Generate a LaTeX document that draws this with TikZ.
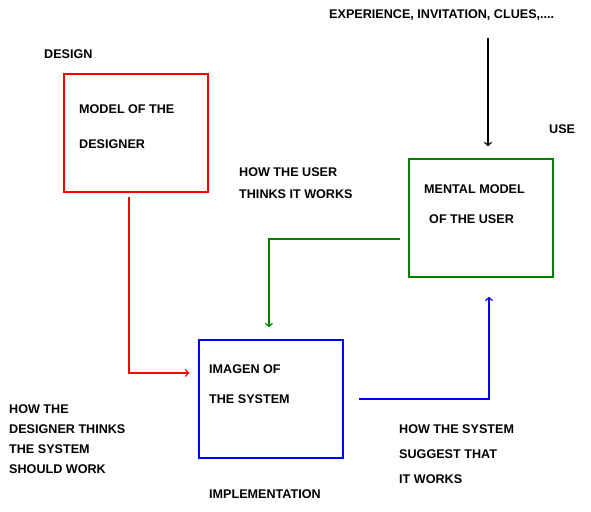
\documentclass[tikz,border=0pt]{standalone}
\usepackage{fontspec}
\setmainfont{Liberation Sans}
\usepackage{tikz}
\usetikzlibrary{positioning,arrows.meta}

\begin{document}
\begin{tikzpicture}[x=1pt, y=-1pt,
  every node/.style={font=\fontsize{12.6}{14}\selectfont\bfseries},
  lbl/.style={anchor=west, inner sep=0pt},
  boxnode/.style={draw, line width=1.6pt, minimum width=144pt, minimum height=118pt, inner sep=0pt},
  link/.style={line width=1.6pt, -{Straight Barb[length=3pt,width=7pt,line width=1.2pt]}}]
\useasboundingbox (0,0) rectangle (591,511);
% boxes
\node[boxnode, draw=red] (design) at (136,133) {};
\node[boxnode, draw=blue] (system) at (271,399) {};
\node[boxnode, draw=green!50!black] (mental) at (481,218) {};
% box texts
\node[lbl] (d1) at (79,109) {MODEL OF THE};
\node[lbl] (d2) at (79,144) {DESIGNER};
\node[lbl] (s1) at (209,369) {IMAGEN OF};
\node[lbl] (s2) at (209,399) {THE SYSTEM};
\node[lbl] (m1) at (424,189) {MENTAL MODEL};
\node[lbl] (m2) at (429,219) {OF THE USER};
% labels
\node[lbl] (dsg) at (44,54) {DESIGN};
\node[lbl] (use) at (549,129) {USE};
\node[lbl] (impl) at (209,494) {IMPLEMENTATION};
\node[lbl] (exp) at (329,15) {EXPERIENCE, INVITATION, CLUES,....};
\node[lbl, align=left, font=\fontsize{12.6}{22}\selectfont\bfseries] (usr) at (239,183) {HOW THE USER\\THINKS IT WORKS};
\node[lbl, align=left, font=\fontsize{12.6}{20}\selectfont\bfseries] (dsn) at (9,439) {HOW THE\\DESIGNER THINKS\\THE SYSTEM\\SHOULD WORK};
\node[lbl, align=left, font=\fontsize{12.6}{25}\selectfont\bfseries] (sug) at (399,454) {HOW THE SYSTEM\\SUGGEST THAT\\IT WORKS};
% connectors
\coordinate (src) at (488,38);
\draw[link, draw=black] (src) -- ([xshift=7pt,yshift=12pt]mental.north);
\draw[link, draw=red] ([xshift=-7pt,yshift=-4pt]design.south) |- ([xshift=-9pt,yshift=26pt]system.west);
\draw[link, draw=green!50!black] ([xshift=-8pt,yshift=-21pt]mental.west) -| ([xshift=-2pt,yshift=12pt]system.north);
\draw[link, draw=blue] ([xshift=15pt]system.east) -| ([xshift=8pt,yshift=-19pt]mental.south);
\end{tikzpicture}
\end{document}
